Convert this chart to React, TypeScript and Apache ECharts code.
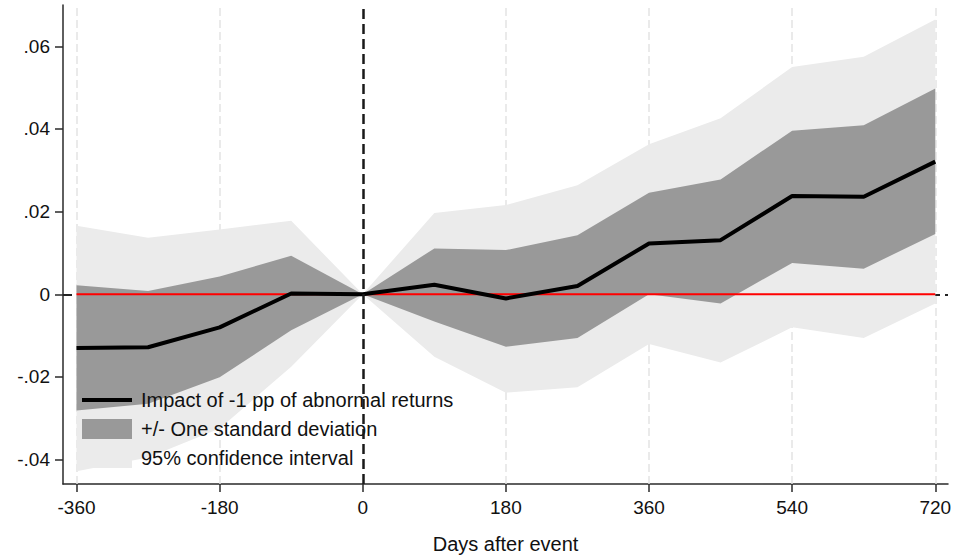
import React, { useEffect, useRef } from 'react';
import * as echarts from 'echarts';

// Event-study horizon (days after event)
const days = [-360, -270, -180, -90, 0, 90, 180, 270, 360, 450, 540, 630, 720];
// Point estimate: impact of -1 pp of abnormal returns
const estimate = [-0.013, -0.0128, -0.008, 0.0002, 0, 0.0023, -0.001, 0.002, 0.0123, 0.0131, 0.0238, 0.0236, 0.0321];
// +/- one standard deviation band
const sdUpper = [0.0022, 0.0008, 0.0043, 0.0093, 0, 0.0111, 0.0107, 0.0143, 0.0246, 0.0278, 0.0396, 0.0409, 0.0498];
const sdLower = [-0.0281, -0.0265, -0.0201, -0.0087, 0, -0.0066, -0.0127, -0.0106, 0.0, -0.0022, 0.0076, 0.0062, 0.0146];
// 95% confidence interval band
const ciUpper = [0.0166, 0.0137, 0.0157, 0.0178, 0, 0.0197, 0.0216, 0.0264, 0.0363, 0.0426, 0.055, 0.0575, 0.0665];
const ciLower = [-0.0428, -0.0395, -0.0325, -0.0175, 0, -0.0151, -0.0238, -0.0225, -0.012, -0.0165, -0.008, -0.0106, -0.0022];

// Axis ticks
const xTicks = [-360, -180, 0, 180, 360, 540, 720];
const yTicks = [-0.04, -0.02, 0, 0.02, 0.04, 0.06];
const gridDays = [-360, -180, 180, 360, 540, 720];

const names = {
  est: 'Impact of -1 pp of abnormal returns',
  sd: '+/- One standard deviation',
  ci: '95% confidence interval',
};

const FONT = 'Liberation Sans, Arial, Helvetica, sans-serif';
const fmtY = (v: number) => (v === 0 ? '0' : v.toFixed(2).replace('0.', '.'));

export default function App() {
  const ref = useRef<HTMLDivElement>(null);

  useEffect(() => {
    if (!ref.current) return;
    const chart = echarts.init(ref.current, null, { renderer: 'svg' });

    const pair = (ys: number[]) => days.map((d, i) => [d, ys[i]]);
    const band = (lo: number[], hi: number[], color: string) => (params: any, api: any) => {
      const pts: number[][] = [];
      days.forEach((d, i) => pts.push(api.coord([d, hi[i]])));
      for (let i = days.length - 1; i >= 0; i--) pts.push(api.coord([days[i], lo[i]]));
      return {
        type: 'polygon',
        shape: { points: pts },
        style: { fill: color, stroke: null },
        silent: true,
      };
    };

    chart.setOption({
      animation: false,
      grid: { left: 63, right: 7, top: 5, bottom: 74, containLabel: false, outerBoundsMode: 'none' },
      legend: {
        orient: 'vertical',
        left: 77,
        top: 385,
        itemWidth: 50,
        itemHeight: 20,
        itemGap: 9,
        selectedMode: false,
        textStyle: { fontSize: 20, fontFamily: FONT, color: '#111', padding: [0, 0, 0, 4] },
        data: [
          { name: names.est, icon: 'path://M0,0H50V4H0Z', itemStyle: { color: '#000' } },
          { name: names.sd, icon: 'rect', itemStyle: { color: '#999999' } },
          { name: names.ci, icon: 'rect', itemStyle: { color: '#ebebeb' } },
        ],
      },
      xAxis: {
        type: 'value',
        min: -377,
        max: 736,
        name: 'Days after event',
        nameLocation: 'middle',
        nameGap: 50,
        nameTextStyle: { fontSize: 20, fontFamily: FONT, color: '#111' },
        axisLine: { show: true, onZero: false, lineStyle: { color: '#2a2a2a', width: 1.5 } },
        axisTick: { show: true, length: 8, customValues: xTicks, lineStyle: { color: '#2a2a2a', width: 1.5 } },
        axisLabel: { customValues: xTicks, margin: 14, fontSize: 19, fontFamily: FONT, color: '#111', formatter: (v: number) => String(v) },
        splitLine: { show: false },
      },
      yAxis: {
        type: 'value',
        min: -0.0459,
        max: 0.07,
        axisLine: { show: true, onZero: false, lineStyle: { color: '#2a2a2a', width: 1.5 } },
        axisTick: { show: true, length: 8, customValues: yTicks, lineStyle: { color: '#2a2a2a', width: 1.5 } },
        axisLabel: { customValues: yTicks, margin: 13, fontSize: 19, fontFamily: FONT, color: '#111', formatter: fmtY },
        splitLine: { show: false },
      },
      series: [
        {
          type: 'line',
          name: 'grid',
          z: 1,
          data: [],
          silent: true,
          markLine: {
            z: 1,
            silent: true,
            symbol: ['none', 'none'],
            label: { show: false },
            lineStyle: { color: '#e4e4e4', type: [8, 4], width: 1.5 },
            data: gridDays.map((d) => ({ xAxis: d })),
          },
        },
        {
          type: 'custom',
          name: names.ci,
          z: 2,
          silent: true,
          itemStyle: { color: '#ebebeb' },
          data: [[0]],
          renderItem: band(ciLower, ciUpper, '#ebebeb'),
        },
        {
          type: 'custom',
          name: names.sd,
          z: 2,
          silent: true,
          itemStyle: { color: '#999999' },
          data: [[0]],
          renderItem: band(sdLower, sdUpper, '#999999'),
        },
        {
          type: 'line',
          name: 'hline',
          z: 2,
          data: [],
          silent: true,
          markLine: {
            z: 2,
            silent: true,
            symbol: ['none', 'none'],
            label: { show: false },
            lineStyle: { color: '#222', type: [9, 5], width: 2 },
            data: [{ yAxis: 0 }],
          },
        },
        {
          type: 'line',
          name: 'zero',
          z: 3,
          symbol: 'none',
          silent: true,
          data: days.map((d) => [d, 0]),
          lineStyle: { color: '#ff0000', width: 2 },
        },
        {
          type: 'line',
          name: names.est,
          z: 3,
          symbol: 'none',
          data: pair(estimate),
          itemStyle: { color: '#000' },
          lineStyle: { color: '#000', width: 4 },
        },
        {
          type: 'line',
          name: 'vline',
          z: 10,
          data: [],
          silent: true,
          markLine: {
            z: 10,
            silent: true,
            symbol: ['none', 'none'],
            label: { show: false },
            lineStyle: { color: '#1a1a1a', type: [10, 5], width: 2.5, opacity: 1 },
            data: [{ xAxis: 0 }],
          },
        },
      ],
    });

    return () => chart.dispose();
  }, []);

  return (
    <div
      ref={ref}
      style={{ position: 'fixed', left: 0, top: 0, width: 955, height: 558, background: '#fff' }}
    />
  );
}
